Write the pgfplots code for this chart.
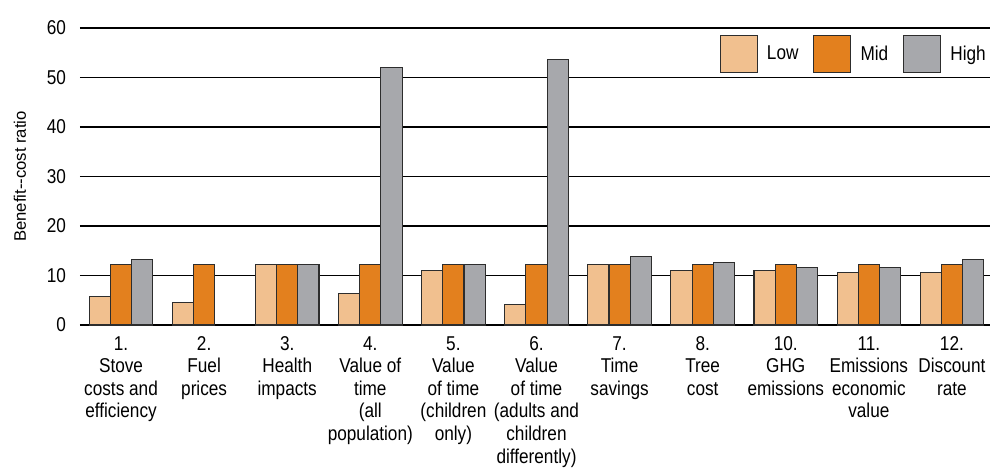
\documentclass[border=0pt]{standalone}
\usepackage{fontspec}
\setmainfont[FakeStretch=0.86]{Liberation Sans}
\newfontfamily\ylabfont{Liberation Sans}
\usepackage{pgfplots}
\pgfplotsset{compat=1.18}

\definecolor{lowc}{RGB}{241,192,143}
\definecolor{midc}{RGB}{227,128,30}
\definecolor{highc}{RGB}{167,168,172}
\definecolor{edge}{RGB}{45,45,45}

\begin{document}
\begin{tikzpicture}
\begin{axis}[
    scale only axis,
    width=682.5pt, height=222.75pt,
    xmin=-0.494, xmax=10.458,
    ymin=0, ymax=60,
    ytick={0,10,...,60},
    ymajorgrids,
    major grid style={black, line width=0.9pt},
    axis line style={draw=none},
    major tick length=0pt,
    ybar=0pt, bar width=0.255,
    legend image code/.code={\draw[#1] (0pt,-13.9pt) rectangle (27.75pt,13.9pt);},
    xtick={0,...,10},
    xticklabels={
      {1.\\Stove\\costs and\\efficiency},
      {2.\\Fuel\\prices},
      {3.\\Health\\impacts},
      {4.\\Value of\\time\\(all\\population)},
      {5.\\Value\\of time\\(children\\only)},
      {6.\\Value\\of time\\(adults and\\children\\differently)},
      {7.\\Time\\savings},
      {8.\\Tree\\cost},
      {10.\\GHG\\emissions},
      {11.\\Emissions\\economic\\value},
      {12.\\Discount\\rate}},
    xticklabel style={align=center, anchor=north, font=\fontsize{15}{16.9}\selectfont, yshift=-5pt},
    yticklabel style={font=\fontsize{15}{17}\selectfont, xshift=-7pt},
    /pgf/number format/assume math mode=true,
    ylabel={Benefit--cost ratio},
    ylabel style={at={(axis description cs:-0.066,0.5)}, anchor=center, font=\ylabfont\fontsize{12.5}{14}\selectfont},
    legend style={at={(rel axis cs:1,1)}, anchor=north east, draw=none, fill=white,
        yshift=-3pt, xshift=2pt,
        font=\fontsize{15}{17}\selectfont,
        /tikz/every odd column/.append style={column sep=5pt},
        /tikz/every even column/.append style={column sep=9pt}},
    legend columns=3,
    every axis plot/.append style={draw=edge, line width=0.8pt},
]
\addplot[fill=lowc] coordinates {
  (0,5.7) (1,4.6) (2,12.2) (3,6.3) (4,11.1) (5,4.2) (6,12.2) (7,11.1) (8,11.1) (9,10.6) (10,10.6)};
\addplot[fill=midc] coordinates {
  (0,12.2) (1,12.2) (2,12.2) (3,12.2) (4,12.2) (5,12.2) (6,12.2) (7,12.2) (8,12.2) (9,12.2) (10,12.2)};
\addplot[fill=highc] coordinates {
  (0,13.3) (2,12.2) (3,52.1) (4,12.2) (5,53.7) (6,13.9) (7,12.7) (8,11.7) (9,11.7) (10,13.3)};
\legend{Low,Mid,High}
\coordinate (O) at (rel axis cs:0,0);
\end{axis}
\pgfresetboundingbox
\path ([shift={(-60pt,-109.5pt)}]O) rectangle ([shift={(682.5pt,243.75pt)}]O);
\end{tikzpicture}
\end{document}
